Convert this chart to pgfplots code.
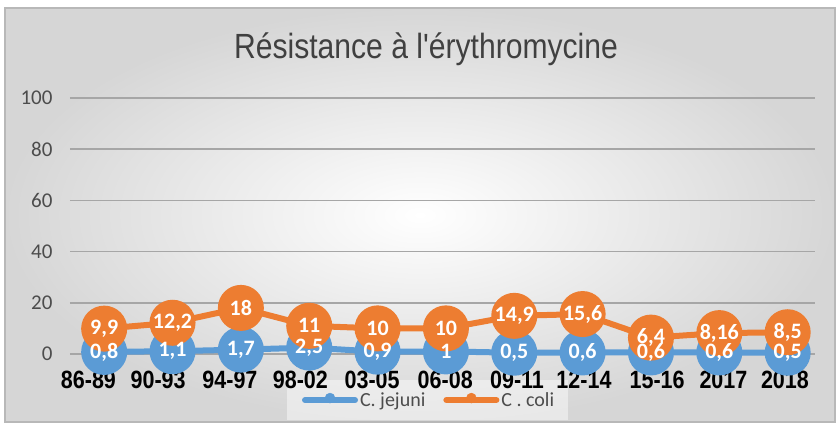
\documentclass[border=0pt]{standalone}
\usepackage{fontspec}
\setmainfont{Liberation Sans}
\newfontfamily\narrowfont[FakeStretch=0.86]{Liberation Sans}
\newfontfamily\calfont{Carlito}
\usepackage{pgfplots}
\pgfplotsset{compat=1.18}
\definecolor{cjej}{HTML}{5B9BD5}
\definecolor{ccol}{HTML}{ED7D31}
\begin{document}
\begin{tikzpicture}[x=1pt,y=1pt]
\fill[white] (0,0) rectangle (840,430);
\shade[inner color=white, outer color=black!16] (5,8) rectangle (835,422);
\draw[black!28, line width=1.5pt] (5,8) rectangle (835,422);
\fill[white, opacity=0.45] (287,10) rectangle (568,50);
\node[text=black!75] at (426,381) {\narrowfont\fontsize{35}{35}\selectfont Résistance à l'érythromycine};
\begin{axis}[at={(70pt,76pt)}, anchor=south west, scale only axis,
  width=745pt, height=256pt, xmin=-0.5, xmax=10.4, ymin=0, ymax=100,
  clip=false,
  axis line style={draw=none}, tick style={draw=none},
  ymajorgrids, grid style={black!35, line width=1.5pt},
  ytick={0,20,40,60,80,100}, yticklabels={0,20,40,60,80,100},
  yticklabel style={font=\calfont\fontsize{21}{21}\selectfont, text=black!70, xshift=-14pt},
  xtick={-0.23,0.79,1.84,2.87,3.92,4.99,6.04,7.02,8.09,9.06,9.96},
  xticklabels={86-89,90-93,94-97,98-02,03-05,06-08,09-11,12-14,15-16,2017,2018},
  xticklabel style={font=\narrowfont\bfseries\fontsize{25}{25}\selectfont, text=black, yshift=-14pt},
  legend style={at={(0.482,-0.18)}, anchor=center, legend columns=2, draw=none,
    fill=none, inner xsep=14pt, inner ysep=7pt,
    font=\calfont\fontsize{20}{20}\selectfont, text=black!70,
    /tikz/every odd column/.append style={column sep=0pt},
    /tikz/every even column/.append style={column sep=16pt}},
]
\addplot[cjej, line width=6pt, mark=*, mark size=20pt, mark options={solid}, forget plot]
 coordinates {(0,0.8)(1,1.1)(2,1.7)(3,2.5)(4,0.9)(5,1)(6,0.5)(7,0.6)(8,0.6)(9,0.6)(10,0.5)};
\addplot[ccol, line width=6pt, mark=*, mark size=20pt, mark options={solid}, forget plot]
 coordinates {(0,9.9)(1,12.2)(2,18)(3,11)(4,10)(5,10)(6,14.9)(7,15.6)(8,6.4)(9,8.16)(10,8.5)};
\addplot[draw=none, forget plot, nodes near coords, point meta=explicit symbolic,
  nodes near coords style={anchor=center, text=white, font=\calfont\bfseries\fontsize{22}{22}\selectfont}]
 coordinates {(0,0.8)[0,8] (1,1.1)[1,1] (2,1.7)[1,7] (3,2.5)[2,5] (4,0.9)[0,9] (5,1)[1]
  (6,0.5)[0,5] (7,0.6)[0,6] (8,0.6)[0,6] (9,0.6)[0,6] (10,0.5)[0,5]};
\addplot[draw=none, forget plot, nodes near coords, point meta=explicit symbolic,
  nodes near coords style={anchor=center, text=white, font=\calfont\bfseries\fontsize{22}{22}\selectfont}]
 coordinates {(0,9.9)[9,9] (1,12.2)[12,2] (2,18)[18] (3,11)[11] (4,10)[10] (5,10)[10]
  (6,14.9)[14,9] (7,15.6)[15,6] (8,6.4)[6,4] (9,8.16)[8,16] (10,8.5)[8,5]};
\addlegendimage{legend image code/.code={\draw[cjej,line width=6pt,line cap=round] (0pt,0pt)--(50pt,0pt); \fill[cjej] (25pt,2pt) circle (5pt);}}
\addlegendentry{C. jejuni}
\addlegendimage{legend image code/.code={\draw[ccol,line width=6pt,line cap=round] (0pt,0pt)--(50pt,0pt); \fill[ccol] (25pt,2pt) circle (5pt);}}
\addlegendentry{C . coli}
\end{axis}
\end{tikzpicture}
\end{document}
